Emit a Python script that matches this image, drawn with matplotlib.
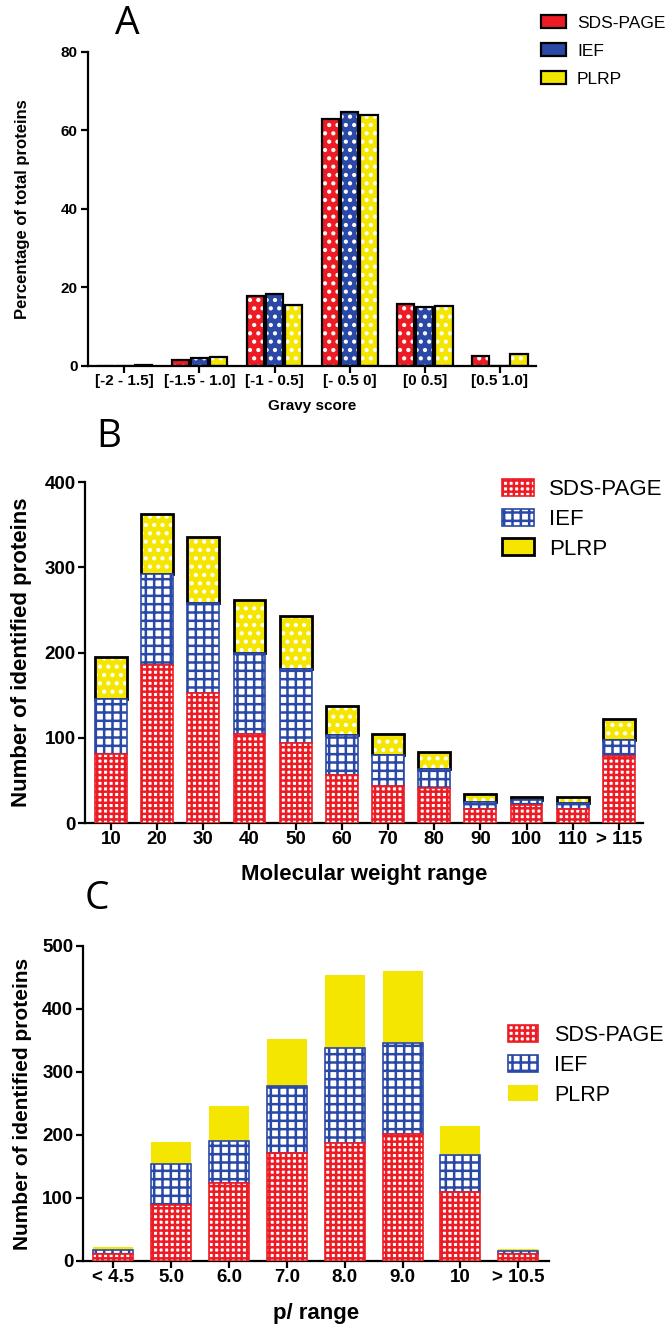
import numpy as np
import matplotlib
matplotlib.use("Agg")
import matplotlib.pyplot as plt
from matplotlib.patches import Patch

plt.rcParams['font.family'] = ['Liberation Sans', 'DejaVu Sans']
plt.rcParams['font.weight'] = 'bold'
plt.rcParams['axes.labelweight'] = 'bold'
plt.rcParams['hatch.linewidth'] = 1.8

RED = '#ED1C24'
BLUE = '#2A48A6'
YELLOW = '#F4E600'

# panel A - gravy score (% of total proteins)
gravy_bins = ["[-2 - 1.5]", "[-1.5 - 1.0]", "[-1 - 0.5]", "[- 0.5 0]", "[0 0.5]", "[0.5 1.0]"]
gravy_sds = [0.1, 1.4, 17.7, 62.8, 15.7, 2.5]
gravy_ief = [0.1, 2.0, 18.3, 64.7, 14.9, 0.0]
gravy_plrp = [0.2, 2.2, 15.6, 64.0, 15.3, 3.1]

# panel B - molecular weight range (number of proteins, stacked)
mw_bins = ["10", "20", "30", "40", "50", "60", "70", "80", "90", "100", "110", "> 115"]
mw_sds = [81, 185, 152, 105, 94, 56, 43, 41, 17, 21, 16, 79]
mw_ief = [65, 107, 106, 95, 87, 47, 37, 22, 8, 6, 8, 18]
mw_plrp = [49, 71, 77, 62, 62, 34, 25, 20, 9, 4, 6, 25]

# panel C - pI range (number of proteins, stacked)
pi_bins = ["< 4.5", "5.0", "6.0", "7.0", "8.0", "9.0", "10", "> 10.5"]
pi_sds = [11, 89, 123, 171, 187, 201, 109, 11]
pi_ief = [7, 65, 68, 107, 151, 145, 59, 5]
pi_plrp = [4, 35, 55, 74, 116, 115, 47, 3]

series = ["SDS-PAGE", "IEF", "PLRP"]


def style_axis(ax, fs):
    for s in ['top', 'right']:
        ax.spines[s].set_visible(False)
    for s in ['left', 'bottom']:
        ax.spines[s].set_linewidth(1.6)
    ax.tick_params(direction='out', length=5, width=1.6, labelsize=fs, pad=2)
    ax.tick_params(axis='x', pad=1)


def thin_hatch(patches, lw):
    for p in patches:
        def _draw(renderer, _orig=p.draw):
            with plt.rc_context({'hatch.linewidth': lw}):
                _orig(renderer)
        p.draw = _draw


def dotted_bar(ax, x, vals, width, color, bottom=None, edge=True, lw=1.6):
    """coloured bar with small white dots, black outline on top"""
    bars = ax.bar(x, vals, width, bottom=bottom, color=color, hatch='..',
                  edgecolor='white', linewidth=0, zorder=2)
    thin_hatch(bars, 0.8)
    if edge:
        ax.bar(x, vals, width, bottom=bottom, facecolor='none',
               edgecolor='black', linewidth=lw, zorder=3)


def checker_bar(ax, x, vals, width, color, hatch, bottom=None):
    ax.bar(x, vals, width, bottom=bottom, facecolor='white', hatch=hatch,
           edgecolor=color, linewidth=1.2, zorder=4)


fig = plt.figure(figsize=(6.7, 13.42), dpi=100)

# ---------------- A ----------------
axA = fig.add_axes([0.1307, 0.7273, 0.6693, 0.234])
x = np.arange(len(gravy_bins))
w = 0.23
for vals, col, off in [(gravy_sds, RED, -0.255), (gravy_ief, BLUE, 0.0),
                       (gravy_plrp, YELLOW, 0.255)]:
    dotted_bar(axA, x + off, vals, w, col)
axA.set_xlim(-0.49, 5.48)
axA.set_ylim(0, 80)
axA.set_yticks([0, 20, 40, 60, 80])
axA.set_xticks(x)
axA.set_xticklabels(gravy_bins)
style_axis(axA, 11)
axA.set_ylabel("Percentage of total proteins", fontsize=12)
axA.yaxis.set_label_coords(-0.128, 0.5)
axA.set_xlabel("Gravy score", fontsize=11)
axA.xaxis.set_label_coords(0.5, -0.105)
handlesA = [Patch(facecolor=c, edgecolor='black', linewidth=1.6) for c in (RED, BLUE, YELLOW)]
fig.legend(handlesA, series, loc='upper left', bbox_to_anchor=(0.8075, 0.9885),
           bbox_transform=fig.transFigure, frameon=False, borderaxespad=0, borderpad=0,
           handlelength=1.44, handleheight=0.75, handletextpad=0.63, labelspacing=0.72,
           prop={'size': 12.5, 'weight': 'normal'})
fig.text(127 / 670, 1 - 24 / 1342, "A", fontsize=28, fontweight='normal',
         family=['Open Sans', 'DejaVu Sans'], ha='center', va='center')

# ---------------- B ----------------
axB = fig.add_axes([0.1276, 0.3867, 0.832, 0.2541])
x = np.arange(len(mw_bins))
w = 0.69
b2 = np.array(mw_sds) + np.array(mw_ief)
dotted_bar(axB, x, mw_plrp, w, YELLOW, bottom=b2, lw=2.0)
checker_bar(axB, x, mw_ief, w, BLUE, '++', bottom=mw_sds)
checker_bar(axB, x, mw_sds, w, RED, '+++')
axB.set_xlim(-0.55, 11.52)
axB.set_ylim(0, 400)
axB.set_yticks([0, 100, 200, 300, 400])
axB.set_xticks(x)
axB.set_xticklabels(mw_bins)
style_axis(axB, 13.5)
axB.set_ylabel("Number of identified proteins", fontsize=16)
axB.yaxis.set_label_coords(-0.096, 0.5)
axB.set_xlabel("Molecular weight range", fontsize=16)
axB.xaxis.set_label_coords(0.5, -0.12)
hB = [Patch(facecolor='white', edgecolor=RED, hatch='+++', linewidth=1.2),
      Patch(facecolor='white', edgecolor=BLUE, hatch='++', linewidth=1.2),
      Patch(facecolor=YELLOW, edgecolor='black', linewidth=2.0)]
fig.legend(hB, series, loc='upper left',
           bbox_to_anchor=(0.7493, 0.6432), bbox_transform=fig.transFigure,
           frameon=False, borderaxespad=0, borderpad=0, handlelength=1.44,
           handleheight=0.81, handletextpad=0.68, labelspacing=0.38,
           prop={'size': 16, 'weight': 'normal'})
fig.text(109 / 670, 1 - 437 / 1342, "B", fontsize=28, fontweight='normal',
         family=['Open Sans', 'DejaVu Sans'], ha='center', va='center')

# ---------------- C ----------------
axC = fig.add_axes([0.1239, 0.0604, 0.6955, 0.2347])
x = np.arange(len(pi_bins))
c2 = np.array(pi_sds) + np.array(pi_ief)
axC.bar(x, pi_plrp, w, bottom=c2, color=YELLOW, linewidth=0, zorder=2)
checker_bar(axC, x, pi_ief, w, BLUE, '++', bottom=pi_sds)
checker_bar(axC, x, pi_sds, w, RED, '+++')
axC.set_xlim(-0.52, 7.53)
axC.set_ylim(0, 500)
axC.set_yticks([0, 100, 200, 300, 400, 500])
axC.set_xticks(x)
axC.set_xticklabels(pi_bins)
style_axis(axC, 13.5)
axC.set_ylabel("Number of identified proteins", fontsize=15)
axC.yaxis.set_label_coords(-0.109, 0.5)
axC.set_xlabel("p/ range", fontsize=16)
axC.xaxis.set_label_coords(0.5, -0.135)
hC = [Patch(facecolor='white', edgecolor=RED, hatch='+++', linewidth=1.2),
      Patch(facecolor='white', edgecolor=BLUE, hatch='++', linewidth=1.2),
      Patch(facecolor=YELLOW, linewidth=0)]
fig.legend(hC, series, loc='upper left',
           bbox_to_anchor=(0.7582, 0.2362), bbox_transform=fig.transFigure,
           frameon=False, borderaxespad=0, borderpad=0, handlelength=1.4,
           handleheight=0.79, handletextpad=0.74, labelspacing=0.41,
           prop={'size': 15.5, 'weight': 'normal'})
fig.text(97 / 670, 1 - 899 / 1342, "C", fontsize=28, fontweight='normal',
         family=['Open Sans', 'DejaVu Sans'], ha='center', va='center')

fig.savefig("out.png", dpi=100)
